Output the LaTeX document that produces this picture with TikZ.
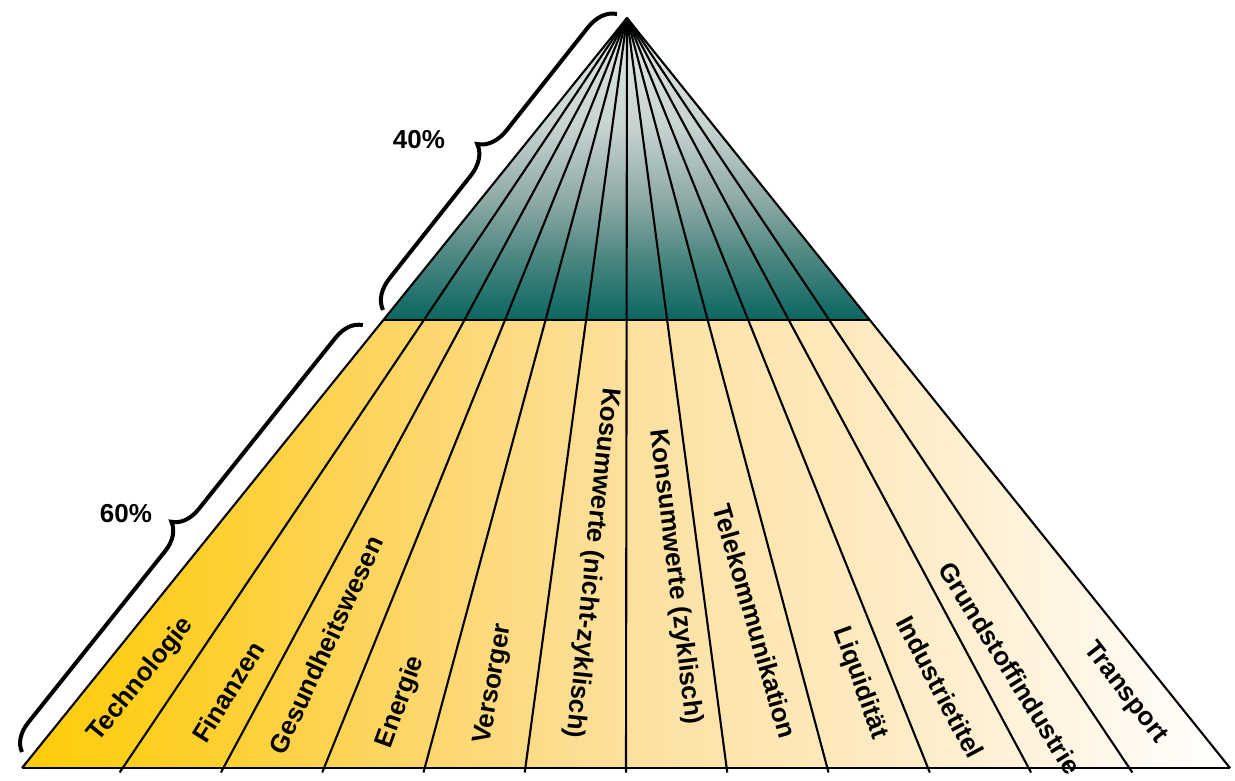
\documentclass[tikz,border=0pt]{standalone}
\usepackage{fontspec}
\setmainfont{Liberation Sans}
\usetikzlibrary{decorations.pathreplacing,calc}
\definecolor{y0}{HTML}{FFCC08}
\definecolor{y1}{HTML}{FECF2C}
\definecolor{y2}{HTML}{FDD562}
\definecolor{y3}{HTML}{FDDD90}
\definecolor{y4}{HTML}{FDE3A8}
\definecolor{y5}{HTML}{FEEAC0}
\definecolor{y6}{HTML}{FFF4E0}
\definecolor{t0}{HTML}{0B6660}
\definecolor{t1}{HTML}{4A8580}
\definecolor{t2}{HTML}{8FAAA6}
\definecolor{t3}{HTML}{C8D4D2}
\definecolor{t4}{HTML}{E2E9E9}
\pgfdeclarehorizontalshading{yelshade}{100bp}{color(0bp)=(y0); color(25bp)=(y0); color(32.5bp)=(y1); color(40bp)=(y2); color(47.5bp)=(y3); color(52.5bp)=(y4); color(60bp)=(y5); color(67.5bp)=(y6); color(75bp)=(white); color(100bp)=(white)}
\pgfdeclareverticalshading{tealshade}{100bp}{color(0bp)=(t0); color(25bp)=(t0); color(35bp)=(t1); color(45bp)=(t2); color(57.5bp)=(t3); color(75bp)=(t4); color(100bp)=(t4)}
\tikzset{
  lab/.style={font=\bfseries\fontsize{26}{30}\selectfont, inner sep=0pt},
  pct/.style={font=\bfseries\fontsize{26}{30}\selectfont, inner sep=0pt},
  sector/.style={draw=black, line width=2.1pt},
  bracestyle/.style={draw=black, line width=4pt, decorate, decoration={brace, amplitude=#1}},
}
\begin{document}
\begin{tikzpicture}[x=1pt,y=-1pt]
\useasboundingbox (0,0) rectangle (1235,781);
\coordinate (A) at (627,18);
\foreach \k in {0,...,12}{
  \coordinate (B\k) at ({22+100.6667*\k},768);
}
\coordinate (L) at ($(A)!0.4027!(B0)$);
\coordinate (R) at ($(A)!0.4027!(B12)$);
% fills
\fill[shading=yelshade] (L) -- (B0) -- (B12) -- (R) -- cycle;
\fill[shading=tealshade] (A) -- (L) -- (R) -- cycle;
% lines
\draw[sector] (L) -- (R);
\draw[sector] (A) -- (B0);
\draw[sector] (A) -- (B12);
\foreach \k in {1,...,11}{
  \draw[sector] (A) -- ($(A)!1.006!(B\k)$);
}
\draw[black, line width=2.8pt] (B0) -- (B12);
% braces
\coordinate (b60lo) at (22,752);
\coordinate (b60hi) at (363,325);
\coordinate (b40lo) at (383,310);
\coordinate (b40hi) at (617,14);
\draw[bracestyle=27pt] (b60lo) -- (b60hi);
\draw[bracestyle=29pt] (b40lo) -- (b40hi);
\node[pct] (p40) at (419,140) {40\%};
\node[pct] (p60) at (126,514) {60\%};
% labels
\node[lab, rotate=51] (l1) at (141,680) {Technologie};
\node[lab, rotate=58] (l2) at (228,692) {Finanzen};
\node[lab, rotate=65] (l3) at (326,645) {Gesundheitswesen};
\node[lab, rotate=70] (l4) at (401,702) {Energie};
\node[lab, rotate=80] (l5) at (494,684) {Versorger};
\node[lab, rotate=-96] (l6) at (592,563) {Kosumwerte (nicht-zyklisch)};
\node[lab, rotate=-83] (l7) at (675,577) {Konsumwerte (zyklisch)};
\node[lab, rotate=-74] (l8) at (755,621) {Telekommunikation};
\node[lab, rotate=-70] (l9) at (860,683) {Liquidität};
\node[lab, rotate=-62] (l10) at (940,687) {Industrietitel};
\node[lab, rotate=-58] (l11) at (1010,668) {Grundstoffindustrie};
\node[lab, rotate=-52] (l12) at (1125,693) {Transport};
\end{tikzpicture}
\end{document}
